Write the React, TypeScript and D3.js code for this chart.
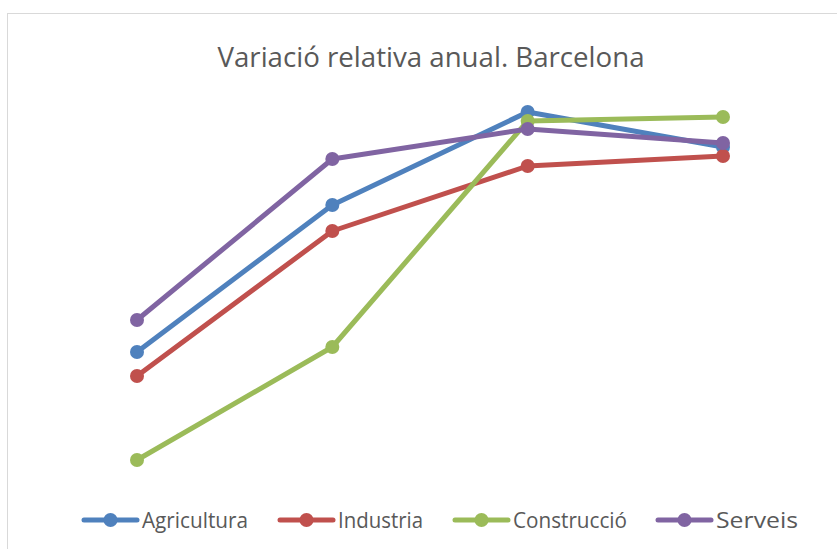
import React from "react";
import * as d3 from "d3";

const categories = ["P1", "P2", "P3", "P4"];
const seriesNames = ["Agricultura", "Industria", "Construcció", "Serveis"];
const agricultura = [32.0, 68.75, 92.0, 83.25];
const industria = [26.0, 62.25, 78.5, 81.0];
const construccio = [5.0, 33.25, 89.75, 90.75];
const serveis = [40.0, 80.25, 87.75, 84.25];
const colors = ["#4F81BD", "#C0504D", "#9BBB59", "#8064A2"];

const W = 837;
const H = 549;

export default function App() {
  const data = [agricultura, industria, construccio, serveis];
  const x = d3.scalePoint<string>().domain(categories).range([137, 723]);
  const y = d3.scaleLinear().domain([0, 100]).range([480, 80]);
  const line = d3
    .line<number>()
    .x((_, i) => x(categories[i]) as number)
    .y((d) => y(d));

  const legendItems = [
    { lx: 84, tx: 142, tw: 106 },
    { lx: 280, tx: 338, tw: 85 },
    { lx: 455, tx: 513, tw: 114 },
    { lx: 658, tx: 716, tw: 82 },
  ];
  const font = "'Open Sans', 'DejaVu Sans', sans-serif";

  return (
    <svg
      width={W}
      height={H}
      style={{ position: "absolute", left: 0, top: 0, background: "#fff" }}
    >
      <rect x={7.5} y={13.5} width={W} height={H} fill="#fff" stroke="#d9d9d9" strokeWidth={1} />
      <text
        x={431}
        y={67}
        textAnchor="middle"
        fontFamily={font}
        fontSize={28}
        fill="#595959"
        textLength={427}
        lengthAdjust="spacingAndGlyphs"
      >
        Variació relativa anual. Barcelona
      </text>
      {data.map((vals, si) => (
        <g key={si}>
          <path d={line(vals) || ""} fill="none" stroke={colors[si]} strokeWidth={5} strokeLinejoin="round" strokeLinecap="round" />
          {vals.map((v, i) => (
            <circle key={i} cx={x(categories[i])} cy={y(v)} r={7} fill={colors[si]} />
          ))}
        </g>
      ))}
      {seriesNames.map((name, i) => {
        const it = legendItems[i];
        return (
          <g key={name}>
            <line x1={it.lx} x2={it.lx + 53} y1={520} y2={520} stroke={colors[i]} strokeWidth={5} strokeLinecap="round" />
            <circle cx={it.lx + 26.5} cy={520} r={7} fill={colors[i]} />
            <text
              x={it.tx}
              y={527.5}
              fontFamily={font}
              fontSize={21}
              fill="#595959"
              textLength={it.tw}
              lengthAdjust="spacingAndGlyphs"
            >
              {name}
            </text>
          </g>
        );
      })}
    </svg>
  );
}
